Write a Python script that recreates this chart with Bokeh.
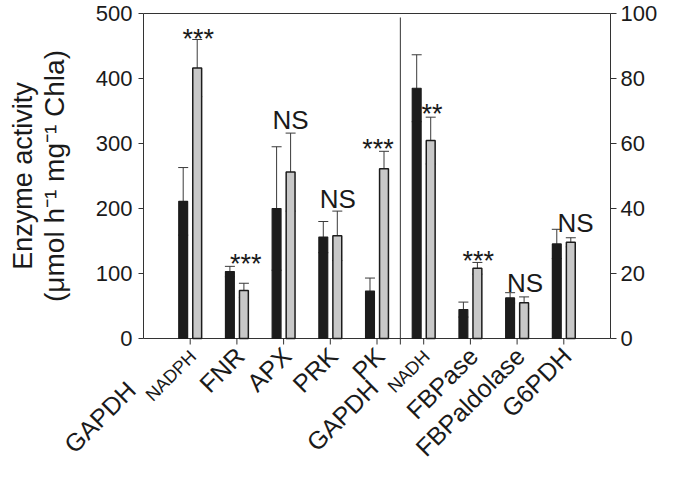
import math
from bokeh.plotting import figure
from bokeh.models import Range1d, Whisker, TeeHead, ColumnDataSource
from bokeh.core.properties import value
from bokeh.embed import file_html
from bokeh.resources import INLINE

# ---------------- data ----------------
names = ["GAPDH", "FNR", "APX", "PRK", "PK", "GAPDH", "FBPase", "FBPaldolase", "G6PDH"]
subs = ["NADPH", "", "", "", "", "NADH", "", "", ""]

left_black = [211, 103, 200, 156, 73]
left_black_err = [52, 8, 95, 24, 20]
left_gray = [416, 74, 256, 158, 261]
left_gray_err = [44, 11, 60, 38, 27]

right_black = [77.0, 8.9, 12.5, 29.1]
right_black_err = [10.3, 2.3, 1.6, 4.5]
right_gray = [60.9, 21.6, 11.0, 29.6]
right_gray_err = [7.2, 1.8, 1.8, 1.4]

sig_text = ["***", "***", "NS", "NS", "***", "**", "***", "NS", "NS"]
sig_y = [461, 114, 336, 215, 292, 69.1, 24.0, 17.2, 35.5]
sig_dx = [0.17, 0.19, 0.15, 0.16, 0.02, 0.18, 0.17, 0.17, 0.25]

left_ticks = [0, 100, 200, 300, 400, 500]
right_ticks = [0, 20, 40, 60, 80, 100]
y_title_1 = "Enzyme activity"
y_title_2 = "(μmol h⁻¹ mg⁻¹ Chla)"

# ---------------- layout / style ----------------
W, H = 659, 463
PX_L, PX_R, AX_T, AX_B = 143, 610, 13, 338
LMAX, RMAX = 500, 100
FONT = "Liberation Sans"
TXT = "#1a1a1a"
LINE = "#333333"
BLACK = "#1c1c1c"
GRAY = "#c8c8c8"
ERR = "#3a3a3a"
OFF = 0.15
BW = 0.19

n_left = len(left_black)
n_right = len(right_black)
n_all = n_left + n_right
XMAX = n_all + 1
xl = list(range(1, n_left + 1))
xr = list(range(n_left + 1, n_all + 1))

ppx = (PX_R - PX_L) / XMAX
ppy = (AX_B - AX_T) / LMAX
y0 = -(H - AX_B) / ppy
y1 = LMAX + AX_T / ppy

p = figure(width=W, height=H, x_range=Range1d(-PX_L / ppx, XMAX + (W - PX_R) / ppx),
           y_range=Range1d(y0, y1), output_backend="svg", toolbar_location=None,
           x_axis_location=None, y_axis_location=None,
           min_border=0, min_border_left=0, min_border_right=0,
           min_border_top=0, min_border_bottom=0)
p.extra_y_ranges = {"right": Range1d(y0 * RMAX / LMAX, y1 * RMAX / LMAX)}
p.grid.visible = False
p.outline_line_color = None
p.background_fill_color = "white"
p.border_fill_color = "white"

def dx(px):
    return px / ppx

def dy(px):
    return px / ppy

# ---------------- frame & axes ----------------
p.segment(x0=[0, XMAX, 0, 0], y0=[0, 0, 0, LMAX], x1=[0, XMAX, XMAX, XMAX],
          y1=[LMAX, LMAX, 0, LMAX], line_color=LINE, line_width=1)
p.segment(x0=[0] * len(left_ticks), x1=[-dx(5)] * len(left_ticks),
          y0=left_ticks, y1=left_ticks, line_color=LINE, line_width=1)
p.text(x=[-dx(11)] * len(left_ticks), y=left_ticks, text=[str(t) for t in left_ticks],
       text_align="right", text_baseline="middle", text_font=value(FONT),
       text_font_size="22px", text_color=TXT)
p.segment(x0=[XMAX] * len(right_ticks), x1=[XMAX + dx(6)] * len(right_ticks),
          y0=right_ticks, y1=right_ticks, line_color=LINE, line_width=1,
          y_range_name="right")
p.text(x=[XMAX + dx(10)] * len(right_ticks), y=right_ticks,
       text=[str(t) for t in right_ticks], text_align="left", text_baseline="middle",
       text_font=value(FONT), text_font_size="22px", text_color=TXT,
       y_range_name="right")
div_x = n_left + 0.5
bt = xl + xr + [div_x]
p.segment(x0=bt, x1=bt, y0=[0] * len(bt), y1=[-dy(6)] * len(bt),
          line_color=LINE, line_width=1)
p.segment(x0=[div_x], y0=[0], x1=[div_x], y1=[LMAX - dy(4)], line_color=LINE, line_width=1)

# y titles
p.text(x=[dx(22 - PX_L)], y=[LMAX / 2], text=[y_title_1], angle=math.pi / 2,
       text_align="center", text_baseline="alphabetic", text_font=value(FONT),
       text_font_size="27px", text_color=TXT)
p.text(x=[dx(54 - PX_L)], y=[LMAX / 2], text=[y_title_2], angle=math.pi / 2,
       text_align="center", text_baseline="alphabetic", text_font=value(FONT),
       text_font_size="28px", text_color=TXT)

# ---------------- bars ----------------
p.vbar(x=[x - OFF for x in xl], top=left_black, width=BW, bottom=0,
       fill_color=BLACK, line_color=BLACK, line_width=1.2)
p.vbar(x=[x + OFF for x in xl], top=left_gray, width=BW, bottom=0,
       fill_color=GRAY, line_color=BLACK, line_width=1.5)
p.vbar(x=[x - OFF for x in xr], top=right_black, width=BW, bottom=0,
       fill_color=BLACK, line_color=BLACK, line_width=1.2, y_range_name="right")
p.vbar(x=[x + OFF for x in xr], top=right_gray, width=BW, bottom=0,
       fill_color=GRAY, line_color=BLACK, line_width=1.5, y_range_name="right")

def add_whisker(xs, vals, errs, rng):
    src = ColumnDataSource(dict(base=xs,
                                lower=[v - e for v, e in zip(vals, errs)],
                                upper=[v + e for v, e in zip(vals, errs)]))
    w = Whisker(base="base", lower="lower", upper="upper", source=src,
                line_color=ERR, line_width=1,
                upper_head=TeeHead(size=10, line_color=ERR, line_width=1),
                lower_head=TeeHead(size=10, line_color=ERR, line_width=1))
    if rng:
        w.y_range_name = rng
    p.add_layout(w)

add_whisker([x - OFF for x in xl], left_black, left_black_err, None)
add_whisker([x + OFF for x in xl], left_gray, left_gray_err, None)
add_whisker([x - OFF for x in xr], right_black, right_black_err, "right")
add_whisker([x + OFF for x in xr], right_gray, right_gray_err, "right")

# ---------------- significance marks ----------------
for i, (t, y, ddx) in enumerate(zip(sig_text, sig_y, sig_dx)):
    kw = {"y_range_name": "right"} if i >= n_left else {}
    size = "27px" if "*" in t else "26px"
    p.text(x=[i + 1 + ddx], y=[y], text=[t], text_align="center",
           text_baseline="middle", text_font=value(FONT), text_font_size=size,
           text_color=TXT, **kw)

# ---------------- category labels (one rotated text renderer) ----------------
ang = math.pi / 4
main_off = {"NADPH": (-59, 47), "NADH": (-50, 45)}
lx, ly, lt, ls = [], [], [], []
for i, (nm, sb) in enumerate(zip(names, subs)):
    x = i + 1
    if sb:
        lx.append(x + dx(3)); ly.append(-dy(15)); lt.append(sb); ls.append("18px")
        ox, oy = main_off[sb]
        lx.append(x + dx(ox)); ly.append(-dy(oy)); lt.append(nm); ls.append("25px")
    else:
        lx.append(x + dx(3)); ly.append(-dy(13)); lt.append(nm); ls.append("25px")

lab_src = ColumnDataSource(dict(x=lx, y=ly, text=lt, size=ls))
p.text(x="x", y="y", text="text", text_font_size="size", source=lab_src,
       angle=ang, text_align="right", text_baseline="middle",
       text_font=value(FONT), text_color=TXT)

open("out.html", "w").write(file_html(p, INLINE))
